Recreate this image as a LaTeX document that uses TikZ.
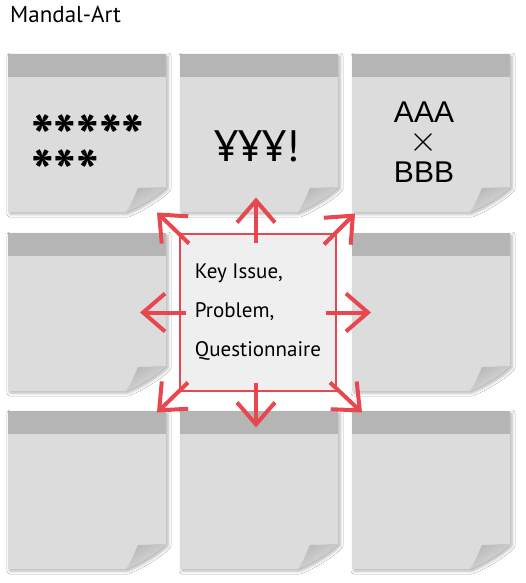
\documentclass[tikz,border=0pt]{standalone}
\usepackage{fontspec}
\usepackage{xcolor}
\usetikzlibrary{arrows.meta,calc,shadows.blur}
\newfontfamily\dinfont{PT Sans}
\newfontfamily\helvfont{Liberation Sans}
\definecolor{notegray}{RGB}{220,220,221}
\definecolor{notehead}{RGB}{181,181,182}
\definecolor{issuefill}{RGB}{239,239,239}
\definecolor{burstred}{RGB}{233,71,79}

\begin{document}
\begin{tikzpicture}[
    x=1pt,y=-1pt,
    >={Straight Barb[length=22pt,width=38pt]},
    curl/.style={left color=black!28,middle color=white!96!black,right color=black!12,shading angle=30},
    note/.pic={
      \fill[notegray,blur shadow={shadow xshift=2pt,shadow yshift=-2pt,shadow blur radius=3pt,shadow opacity=30}]
        (0,0) -- (158,0) -- (158,133) .. controls (148,143) and (130,153) .. (118,158) -- (0,158) -- cycle;
      \fill[notehead] (0,0) rectangle (158,23);
      \shade[curl] (158,133) .. controls (148,143) and (130,153) .. (118,158)
        .. controls (124,150) and (127,140) .. (130,134) .. controls (140,134) and (150,133) .. (158,133) -- cycle;
    },
    issuebox/.style={
      rectangle,draw=burstred,fill=issuefill,line width=1.4pt,
      minimum width=156pt,minimum height=157pt,inner sep=0pt,align=left,
      font=\dinfont\fontsize{21}{39}\selectfont
    },
    notetext/.style={inner sep=0pt,align=center},
    starline/.style={anchor=base west,inner sep=0pt,text height=42pt,text depth=-24pt,
      font=\dinfont\bfseries\fontsize{60}{60}\selectfont},
    abline/.style={inner sep=0pt,font=\helvfont\fontsize{30}{30}\selectfont},
    burst/.style={->,line width=4pt,color=burstred}
  ]
    \fill[white] (0,0) rectangle (526,583);
    \useasboundingbox (0,0) rectangle (526,583);

    \node[anchor=base west,inner sep=0pt,font=\dinfont\fontsize{23}{23}\selectfont] (title) at (10,23) {Mandal-Art};

    % sticky notes round the centre
    \pic (nw) at (8,54) {note};
    \pic (n) at (180,54) {note};
    \pic (ne) at (352,54) {note};
    \pic (w) at (8,233) {note};
    \pic (e) at (352,233) {note};
    \pic (sw) at (8,411) {note};
    \pic (s) at (180,411) {note};
    \pic (se) at (352,411) {note};

    \node[starline] (stars1) at (31,158) {*****};
    \node[starline] (stars2) at (31,193) {***};
    \node[notetext,font=\dinfont\fontsize{44}{44}\selectfont] (yen) at (257,146) {¥¥¥!};
    \node[abline,anchor=base] (aaa) at (424,123) {AAA};
    \node[abline] (times) at (424,142) {\scalebox{1.45}{$\times$}};
    \node[abline,anchor=base] (bbb) at (424,182) {BBB};

    \node[issuebox] (issue) at (258,312.5) {Key Issue,\\Problem,\\Questionnaire};

    % arrows out of the key issue
    \coordinate (from-n) at ($(issue.center)+(-2,-70)$);
    \coordinate (to-n) at ($(issue.center)+(-2,-115)$);
    \coordinate (from-s) at ($(issue.center)+(-2,70)$);
    \coordinate (to-s) at ($(issue.center)+(-2,115)$);
    \coordinate (from-w) at ($(issue.center)+(-72,0)$);
    \coordinate (to-w) at ($(issue.center)+(-118,0)$);
    \coordinate (from-e) at ($(issue.center)+(68,0)$);
    \coordinate (to-e) at ($(issue.center)+(113,0)$);
    \coordinate (from-nw) at ($(issue.center)+(-69,-69)$);
    \coordinate (to-nw) at ($(issue.center)+(-101,-100)$);
    \coordinate (from-ne) at ($(issue.center)+(66,-68)$);
    \coordinate (to-ne) at ($(issue.center)+(97,-99)$);
    \coordinate (from-sw) at ($(issue.center)+(-70,70)$);
    \coordinate (to-sw) at ($(issue.center)+(-101,100)$);
    \coordinate (from-se) at ($(issue.center)+(72,70)$);
    \coordinate (to-se) at ($(issue.center)+(104,100)$);

    \draw[burst] (from-n) -- (to-n);
    \draw[burst] (from-s) -- (to-s);
    \draw[burst] (from-w) -- (to-w);
    \draw[burst] (from-e) -- (to-e);
    \draw[burst] (from-nw) -- (to-nw);
    \draw[burst] (from-ne) -- (to-ne);
    \draw[burst] (from-sw) -- (to-sw);
    \draw[burst] (from-se) -- (to-se);
  \end{tikzpicture}
\end{document}
